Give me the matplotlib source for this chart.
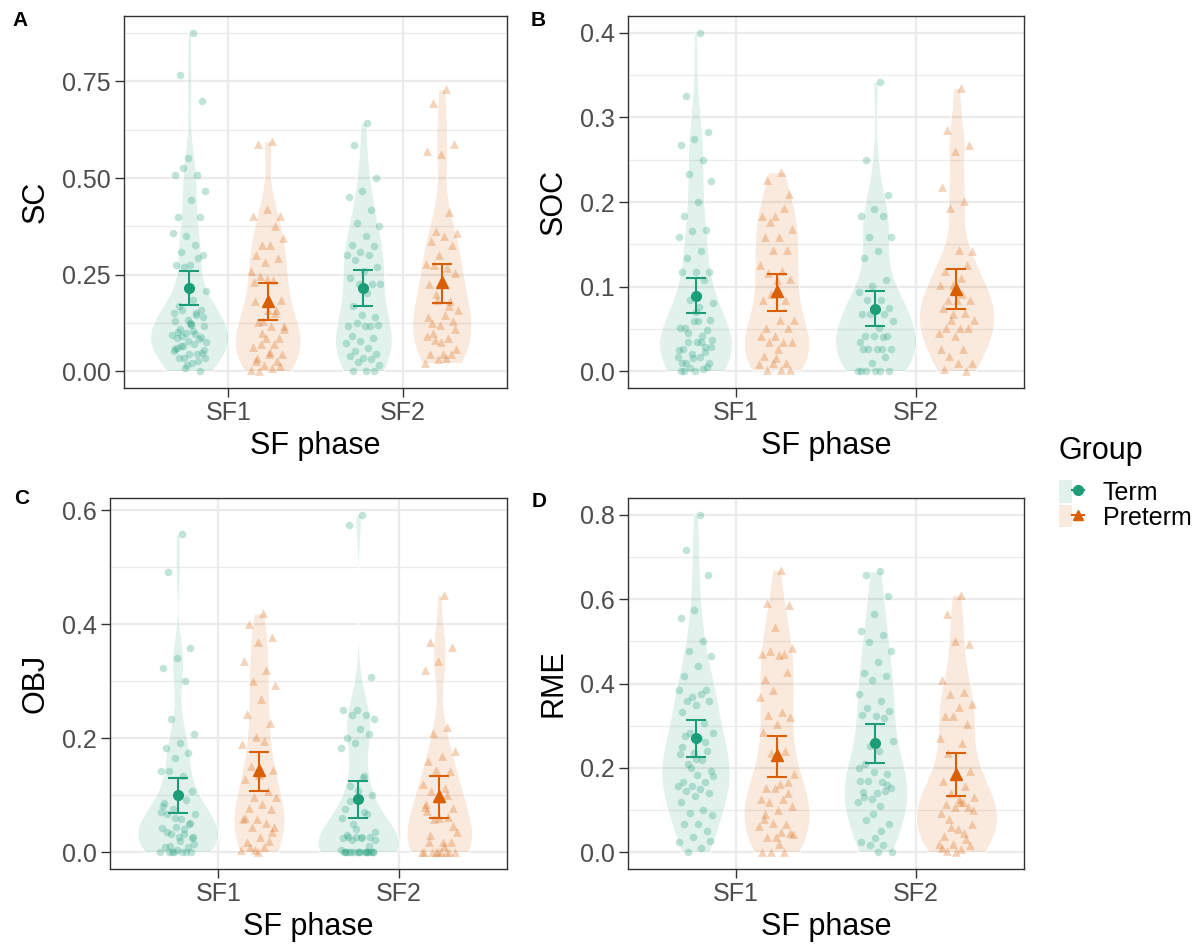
import numpy as np
import matplotlib
matplotlib.use("Agg")
import matplotlib.pyplot as plt
from matplotlib.patches import Patch
from matplotlib.lines import Line2D
from matplotlib.legend_handler import HandlerTuple
from matplotlib.ticker import FixedLocator

plt.rcParams['font.family'] = ['Liberation Sans', 'DejaVu Sans']

# ---------------- data ----------------
phases = ["SF1", "SF2"]
groups = ["Term", "Preterm"]
panel_letters = ["A", "B", "C", "D"]
measures = ["SC", "SOC", "OBJ", "RME"]

sc_term_sf1 = [0.875, 0.767, 0.700, 0.551, 0.509, 0.509, 0.525, 0.467, 0.442, 0.400, 0.400, 0.351, 0.358, 0.326,
               0.308, 0.302, 0.276, 0.276, 0.293, 0.269, 0.209, 0.184, 0.168, 0.160, 0.134, 0.151, 0.151, 0.160,
               0.117, 0.123, 0.087, 0.085, 0.100, 0.095, 0.070, 0.067, 0.048, 0.044, 0.057, 0.046, 0.035, 0.035,
               0.022, 0.035, 0.001, 0.018, 0.052, 0.098, 0.092, 0.140, 0.125, 0.060, 0.028, 0.010, 0.075,
               0.105, 0.110, 0.090, 0.080, 0.130, 0.145, 0.065, 0.055, 0.120, 0.102]
sc_pre_sf1 = [0.595, 0.587, 0.403, 0.420, 0.403, 0.376, 0.327, 0.344, 0.327, 0.302, 0.293, 0.284, 0.259, 0.237,
              0.246, 0.186, 0.160, 0.181, 0.160, 0.130, 0.117, 0.117, 0.127, 0.087, 0.087, 0.063, 0.070, 0.070,
              0.044, 0.044, 0.027, 0.027, 0.018, 0.003, 0.009, 0.001, 0.014, 0.240, 0.230, 0.150, 0.100, 0.110,
              0.050, 0.035]
sc_term_sf2 = [0.643, 0.585, 0.499, 0.467, 0.450, 0.418, 0.383, 0.376, 0.351, 0.327, 0.323, 0.310, 0.302, 0.302,
               0.289, 0.271, 0.259, 0.241, 0.226, 0.226, 0.226, 0.203, 0.168, 0.140, 0.147, 0.117, 0.117, 0.125,
               0.121, 0.117, 0.091, 0.087, 0.078, 0.074, 0.061, 0.052, 0.044, 0.035, 0.040, 0.031, 0.025, 0.018,
               0.001, 0.001, 0.001]
sc_pre_sf2 = [0.729, 0.694, 0.587, 0.562, 0.570, 0.412, 0.362, 0.359, 0.351, 0.336, 0.327, 0.302, 0.277, 0.267,
              0.274, 0.254, 0.229, 0.226, 0.181, 0.186, 0.160, 0.147, 0.125, 0.130, 0.119, 0.091, 0.087, 0.082,
              0.057, 0.044, 0.044, 0.044, 0.033, 0.022, 0.035, 0.100, 0.110, 0.075, 0.140, 0.170, 0.200]

soc_term_sf1 = [0.400, 0.325, 0.283, 0.275, 0.267, 0.250, 0.233, 0.225, 0.200, 0.184, 0.167, 0.166, 0.159, 0.142,
                0.134, 0.117, 0.117, 0.117, 0.108, 0.084, 0.081, 0.076, 0.051, 0.049, 0.059, 0.051, 0.042, 0.034,
                0.029, 0.034, 0.026, 0.028, 0.020, 0.017, 0.017, 0.009, 0.009, 0.000, 0.000, 0.002, 0.004, 0.037,
                0.059, 0.000, 0.005, 0.015, 0.025, 0.035, 0.045, 0.060, 0.070, 0.010, 0.022]
soc_pre_sf1 = [0.235, 0.226, 0.209, 0.184, 0.184, 0.193, 0.176, 0.168, 0.159, 0.159, 0.143, 0.143, 0.126, 0.118,
               0.116, 0.109, 0.108, 0.084, 0.084, 0.091, 0.060, 0.060, 0.051, 0.051, 0.042, 0.042, 0.034, 0.034,
               0.034, 0.026, 0.018, 0.010, 0.010, 0.008, 0.001, 0.001, 0.001, 0.016]
soc_term_sf2 = [0.342, 0.250, 0.208, 0.192, 0.183, 0.183, 0.159, 0.159, 0.142, 0.134, 0.108, 0.101, 0.093, 0.084,
                0.084, 0.075, 0.073, 0.067, 0.068, 0.067, 0.059, 0.051, 0.042, 0.042, 0.042, 0.034, 0.026, 0.026,
                0.026, 0.026, 0.026, 0.017, 0.009, 0.000, 0.000, 0.000, 0.000, 0.000, 0.000, 0.040]
soc_pre_sf2 = [0.335, 0.285, 0.268, 0.260, 0.218, 0.201, 0.193, 0.142, 0.143, 0.118, 0.126, 0.102, 0.102, 0.091,
               0.084, 0.084, 0.084, 0.075, 0.069, 0.060, 0.060, 0.051, 0.051, 0.051, 0.042, 0.026, 0.026, 0.018,
               0.009, 0.009, 0.002, 0.000, 0.067, 0.045, 0.110]

obj_term_sf1 = [0.558, 0.491, 0.358, 0.341, 0.324, 0.301, 0.234, 0.208, 0.192, 0.183, 0.174, 0.166, 0.142, 0.134,
                0.142, 0.108, 0.100, 0.087, 0.092, 0.076, 0.067, 0.058, 0.067, 0.051, 0.044, 0.042, 0.032, 0.032,
                0.026, 0.026, 0.009, 0.009, 0.000, 0.000, 0.000, 0.000, 0.000, 0.003, 0.081, 0.000, 0.000, 0.015,
                0.020, 0.035, 0.050, 0.060, 0.070, 0.040, 0.010, 0.025]
obj_pre_sf1 = [0.419, 0.401, 0.378, 0.368, 0.335, 0.319, 0.301, 0.294, 0.269, 0.243, 0.227, 0.202, 0.189, 0.195,
               0.151, 0.145, 0.135, 0.128, 0.108, 0.096, 0.096, 0.084, 0.078, 0.076, 0.058, 0.058, 0.051, 0.044,
               0.044, 0.027, 0.017, 0.020, 0.003, 0.003, 0.009, 0.009, 0.035, 0.000, 0.060]
obj_term_sf2 = [0.592, 0.574, 0.308, 0.250, 0.250, 0.241, 0.241, 0.234, 0.217, 0.201, 0.208, 0.192, 0.183, 0.134,
                0.116, 0.100, 0.108, 0.076, 0.067, 0.049, 0.035, 0.026, 0.026, 0.026, 0.026, 0.024, 0.000, 0.000,
                0.000, 0.000, 0.000, 0.000, 0.000, 0.003, 0.131, 0.000, 0.000, 0.000, 0.000, 0.000, 0.022, 0.022,
                0.025, 0.030, 0.010, 0.040, 0.060, 0.070, 0.090, 0.000, 0.000, 0.000, 0.000]
obj_pre_sf2 = [0.452, 0.369, 0.360, 0.335, 0.319, 0.219, 0.209, 0.177, 0.169, 0.160, 0.142, 0.144, 0.119, 0.113,
               0.108, 0.077, 0.093, 0.084, 0.061, 0.058, 0.035, 0.017, 0.017, 0.017, 0.000, 0.000, 0.000, 0.000,
               0.000, 0.000, 0.073, 0.000, 0.000, 0.000, 0.010, 0.030, 0.045, 0.060, 0.080, 0.100]

rme_term_sf1 = [0.800, 0.717, 0.658, 0.575, 0.556, 0.501, 0.476, 0.466, 0.442, 0.417, 0.385, 0.367, 0.384, 0.375,
                0.358, 0.358, 0.350, 0.332, 0.307, 0.283, 0.283, 0.271, 0.275, 0.240, 0.236, 0.233, 0.218, 0.208,
                0.193, 0.183, 0.167, 0.167, 0.157, 0.157, 0.149, 0.144, 0.141, 0.134, 0.118, 0.100, 0.092, 0.089,
                0.067, 0.067, 0.051, 0.035, 0.024, 0.010, 0.000, 0.026, 0.220, 0.250, 0.262, 0.200, 0.180]
rme_pre_sf1 = [0.670, 0.591, 0.586, 0.534, 0.470, 0.470, 0.478, 0.485, 0.468, 0.411, 0.428, 0.385, 0.368, 0.332,
               0.325, 0.321, 0.303, 0.285, 0.241, 0.236, 0.186, 0.161, 0.152, 0.167, 0.153, 0.126, 0.126, 0.119,
               0.110, 0.100, 0.079, 0.067, 0.068, 0.061, 0.047, 0.035, 0.045, 0.035, 0.000, 0.000, 0.000, 0.043,
               0.020, 0.090, 0.140]
rme_term_sf2 = [0.666, 0.658, 0.607, 0.566, 0.525, 0.516, 0.499, 0.476, 0.450, 0.424, 0.417, 0.409, 0.375, 0.359,
                0.342, 0.334, 0.322, 0.326, 0.317, 0.252, 0.263, 0.240, 0.208, 0.185, 0.189, 0.169, 0.167, 0.169,
                0.151, 0.141, 0.143, 0.145, 0.126, 0.118, 0.110, 0.077, 0.067, 0.033, 0.025, 0.016, 0.017, 0.000,
                0.000, 0.130, 0.160, 0.090, 0.200, 0.050]
rme_pre_sf2 = [0.611, 0.566, 0.494, 0.501, 0.409, 0.379, 0.375, 0.351, 0.344, 0.322, 0.303, 0.324, 0.271, 0.259,
               0.236, 0.193, 0.185, 0.169, 0.157, 0.141, 0.130, 0.118, 0.114, 0.108, 0.108, 0.094, 0.118, 0.079,
               0.067, 0.055, 0.039, 0.031, 0.020, 0.020, 0.008, 0.002, 0.016, 0.000, 0.010, 0.045, 0.060, 0.100,
               0.125]

# mean, lower, upper per phase (SF1, SF2)
sc_term_stats = [(0.215, 0.171, 0.259), (0.215, 0.170, 0.262)]
sc_pre_stats = [(0.183, 0.132, 0.228), (0.231, 0.176, 0.278)]
soc_term_stats = [(0.089, 0.069, 0.110), (0.074, 0.053, 0.095)]
soc_pre_stats = [(0.095, 0.071, 0.115), (0.097, 0.073, 0.121)]
obj_term_stats = [(0.100, 0.069, 0.131), (0.093, 0.060, 0.125)]
obj_pre_stats = [(0.144, 0.108, 0.176), (0.098, 0.060, 0.133)]
rme_term_stats = [(0.270, 0.226, 0.314), (0.258, 0.212, 0.304)]
rme_pre_stats = [(0.230, 0.178, 0.275), (0.186, 0.134, 0.234)]

sc_ticks = [0.0, 0.25, 0.50, 0.75]
soc_ticks = [0.0, 0.1, 0.2, 0.3, 0.4]
obj_ticks = [0.0, 0.2, 0.4, 0.6]
rme_ticks = [0.0, 0.2, 0.4, 0.6, 0.8]

# ---------------- style ----------------
COLORS = {"Term": "#1B9E77", "Preterm": "#D95F02"}
MARKERS = {"Term": "o", "Preterm": "^"}
DODGE = 0.225
VIOLIN_HALF = 0.225
JITTER = 0.1
GRID = "#EBEBEB"
DARK = "#333333"
TICKTXT = "#4D4D4D"

W, H = 1202, 951
fig = plt.figure(figsize=(W / 100, H / 100), dpi=100)


def add_ax(l, t, r, b):
    return fig.add_axes([l / W, 1 - b / H, (r - l) / W, (b - t) / H])


def kde(vals, grid):
    v = np.asarray(vals, dtype=float)
    n = len(v)
    sd = v.std(ddof=1)
    q75, q25 = np.percentile(v, [75, 25])
    iqr = q75 - q25
    lo = min(sd, iqr / 1.34) if iqr > 0 else sd
    bw = 0.9 * lo * n ** (-0.2)
    z = (grid[:, None] - v[None, :]) / bw
    return np.exp(-0.5 * z ** 2).sum(axis=1) / (n * bw * np.sqrt(2 * np.pi))


def draw_panel(ax, data, stats, ticks, fmt, ylabel):
    allv = np.concatenate([np.asarray(v) for v in data.values()] +
                          [np.asarray(s).ravel() for s in stats.values()])
    lo, hi = allv.min(), allv.max()
    pad = 0.05 * (hi - lo)
    ax.set_ylim(lo - pad, hi + pad)
    ax.set_xlim(0.4, 2.6)

    dens = {}
    for key, vals in data.items():
        g = np.linspace(min(vals), max(vals), 512)
        dens[key] = (g, kde(vals, g))
    dmax = max(d.max() for _, d in dens.values())

    for key, vals in data.items():
        grp, pi = key
        xc = pi + 1 + (-DODGE if grp == "Term" else DODGE)
        g, d = dens[key]
        hw = d / dmax * VIOLIN_HALF
        col = matplotlib.colors.to_rgb(COLORS[grp])
        ax.fill_betweenx(g, xc - hw, xc + hw, facecolor=(*col, 0.13),
                         edgecolor="white", linewidth=0.7, zorder=2)
        n = len(vals)
        off = (((np.arange(n) + 1) * 0.6180339887) % 1.0 - 0.5) * 2 * JITTER
        ax.scatter(xc + off, vals, s=30 if grp == "Term" else 40, marker=MARKERS[grp],
                   color=COLORS[grp], alpha=0.27, linewidths=0, zorder=3)

    for grp, st in stats.items():
        for pi, (m, l, u) in enumerate(st):
            xc = pi + 1 + (-DODGE if grp == "Term" else DODGE)
            ax.errorbar([xc], [m], yerr=[[m - l], [u - m]], fmt="none", ecolor=COLORS[grp],
                        elinewidth=1.5, capsize=7, capthick=1.5, zorder=4)
            ax.plot([xc], [m], marker=MARKERS[grp], color=COLORS[grp],
                    markersize=7 if grp == "Term" else 8, linestyle="none", zorder=5)

    ax.set_yticks(ticks)
    ax.set_yticklabels([fmt % t for t in ticks])
    minor = [(a + b) / 2 for a, b in zip(ticks[:-1], ticks[1:])]
    step = ticks[1] - ticks[0]
    if ticks[-1] + step / 2 < hi + pad:
        minor.append(ticks[-1] + step / 2)
    ax.yaxis.set_minor_locator(FixedLocator(minor))
    ax.set_xticks([1, 2])
    ax.set_xticklabels(phases)
    ax.grid(which="major", color=GRID, linewidth=1.6, zorder=0)
    ax.grid(which="minor", axis="y", color=GRID, linewidth=0.9, zorder=0)
    ax.set_axisbelow(True)
    ax.tick_params(which="major", length=6.5, width=1.0, color=DARK, labelcolor=TICKTXT,
                   labelsize=18, pad=3)
    ax.tick_params(which="minor", length=0)
    for s in ax.spines.values():
        s.set_color(DARK)
        s.set_linewidth(1.0)
    ax.set_ylabel(ylabel, fontsize=22, labelpad=8, color="black")
    ax.set_xlabel("SF phase", fontsize=22, labelpad=4, color="black")


panels = [
    ((124, 16, 507, 388), {("Term", 0): sc_term_sf1, ("Preterm", 0): sc_pre_sf1,
                           ("Term", 1): sc_term_sf2, ("Preterm", 1): sc_pre_sf2},
     {"Term": sc_term_stats, "Preterm": sc_pre_stats}, sc_ticks, "%.2f"),
    ((628, 16, 1024, 388), {("Term", 0): soc_term_sf1, ("Preterm", 0): soc_pre_sf1,
                            ("Term", 1): soc_term_sf2, ("Preterm", 1): soc_pre_sf2},
     {"Term": soc_term_stats, "Preterm": soc_pre_stats}, soc_ticks, "%.1f"),
    ((110, 498, 507, 869), {("Term", 0): obj_term_sf1, ("Preterm", 0): obj_pre_sf1,
                            ("Term", 1): obj_term_sf2, ("Preterm", 1): obj_pre_sf2},
     {"Term": obj_term_stats, "Preterm": obj_pre_stats}, obj_ticks, "%.1f"),
    ((628, 498, 1024, 869), {("Term", 0): rme_term_sf1, ("Preterm", 0): rme_pre_sf1,
                             ("Term", 1): rme_term_sf2, ("Preterm", 1): rme_pre_sf2},
     {"Term": rme_term_stats, "Preterm": rme_pre_stats}, rme_ticks, "%.1f"),
]

for (box, data, stats, ticks, fmt), name in zip(panels, measures):
    ax = add_ax(*box)
    draw_panel(ax, data, stats, ticks, fmt, name)

label_pos = [(12, 20), (531, 20), (14, 499), (532, 501)]
for (x, y), letter in zip(label_pos, panel_letters):
    fig.text(x / W, 1 - y / H, letter, fontsize=15, fontweight="bold", ha="left", va="center")

fig.text(1059 / W, 1 - 459 / H, "Group", fontsize=22, ha="left", va="baseline")
handles = []
for grp in groups:
    col = matplotlib.colors.to_rgb(COLORS[grp])
    p = Patch(facecolor=(*col, 0.13), edgecolor="none")
    ln = Line2D([], [], color=COLORS[grp], marker=MARKERS[grp], markersize=7, linewidth=1.5)
    handles.append((p, ln))
leg = fig.legend(handles, groups, handler_map={tuple: HandlerTuple(ndivide=None)},
                 loc="center left", bbox_to_anchor=(1059 / W, 1 - 505 / H), frameon=False,
                 fontsize=18, handlelength=1.0, handleheight=1.0,
                 labelspacing=0.0, handletextpad=0.75, borderpad=0.0, borderaxespad=0.0)

fig.savefig("out.png", dpi=100)
